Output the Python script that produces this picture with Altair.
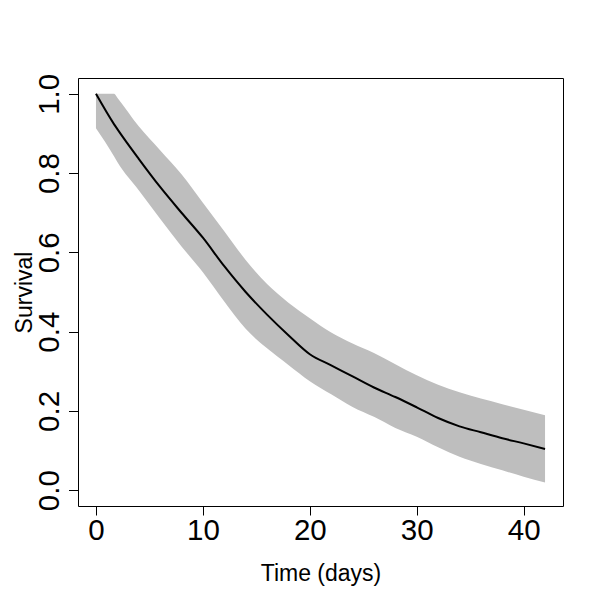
import altair as alt
import pandas as pd

# Survival curve values
time = [0, 1.7, 2, 4, 6, 8, 10, 12, 14, 16, 18, 20, 22, 24, 26, 28, 30, 32, 34, 36, 38, 40, 42]
surv = [1.0, 0.923, 0.911, 0.836, 0.765, 0.70, 0.637, 0.565, 0.50, 0.443, 0.391, 0.343,
        0.315, 0.287, 0.259, 0.235, 0.209, 0.182, 0.161, 0.146, 0.131, 0.118, 0.104]
upper = [1.0, 1.0, 0.99, 0.918, 0.858, 0.797, 0.725, 0.653, 0.581, 0.52, 0.473, 0.434,
         0.398, 0.37, 0.346, 0.318, 0.29, 0.266, 0.247, 0.231, 0.217, 0.203, 0.189]
lower = [0.913, 0.842, 0.828, 0.757, 0.685, 0.615, 0.55, 0.476, 0.407, 0.358, 0.316, 0.275,
         0.242, 0.21, 0.185, 0.157, 0.135, 0.108, 0.084, 0.066, 0.05, 0.034, 0.019]

x_ticks = [0, 10, 20, 30, 40]
y_ticks = [0.0, 0.2, 0.4, 0.6, 0.8, 1.0]

df = pd.DataFrame({"time": time, "surv": surv, "upper": upper, "lower": lower})

FONT = "Liberation Sans"

xscale = alt.Scale(domain=[-1.68, 43.68], nice=False, zero=False)
yscale = alt.Scale(domain=[-0.04, 1.04], nice=False, zero=False)

xaxis = alt.Axis(
    values=x_ticks, title="Time (days)", grid=False, domain=False,
    tickSize=9, tickColor="black", labelFontSize=29.5, labelFont=FONT,
    labelColor="black", labelPadding=1, labelOverlap=False, labelFlush=False,
    titleFont=FONT, titleFontSize=23, titleFontWeight="normal", titleColor="black",
    titleBaseline="alphabetic", titleX=242.5, titleY=74.5, titleAnchor="middle",
)
yaxis = alt.Axis(
    values=y_ticks, format=".1f", title="Survival", grid=False, domain=False,
    tickSize=9.5, tickColor="black", labelFontSize=29.5, labelFont=FONT,
    labelColor="black", labelAngle=270, labelAlign="center",
    labelBaseline="alphabetic", labelPadding=10, labelOverlap=False, labelFlush=False,
    titleFont=FONT, titleFontSize=23, titleFontWeight="normal", titleColor="black",
    titleAngle=270, titleAlign="center", titleBaseline="alphabetic",
    titleX=-47, titleY=214, titleAnchor="middle",
)

band = alt.Chart(df).mark_area(color="#BEBEBE", opacity=1, interpolate="monotone").encode(
    x=alt.X("time:Q", scale=xscale, axis=xaxis),
    y=alt.Y("lower:Q", scale=yscale, axis=yaxis),
    y2="upper:Q",
)

line = alt.Chart(df).mark_line(color="black", strokeWidth=2, interpolate="monotone").encode(
    x=alt.X("time:Q", scale=xscale),
    y=alt.Y("surv:Q", scale=yscale),
)

chart = (band + line).properties(
    width=485, height=428,
    autosize=alt.AutoSizeParams(type="none"),
    padding={"left": 70, "top": 70, "right": 30, "bottom": 80},
    background="white",
).configure_view(stroke="black", strokeWidth=1)

chart.save("out.html", embed_options={"renderer": "svg", "actions": False})
